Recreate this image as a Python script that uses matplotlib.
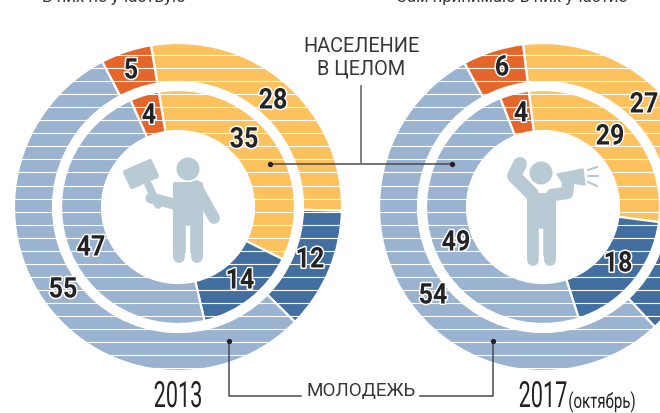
"""Two nested donuts: protest attitudes, 2013 vs 2017."""

import numpy as np
import matplotlib
matplotlib.use("Agg")
import matplotlib.pyplot as plt
import matplotlib.patheffects as pe
from matplotlib.patches import Circle, Polygon
from matplotlib.transforms import Affine2D

plt.rcParams["font.family"] = ["Roboto", "DejaVu Sans"]

# order: yellow, dark blue, light blue, orange
YOUTH_2013 = [28, 12, 55, 5]
ALL_2013 = [35, 14, 47, 4]
YOUTH_2017 = [27, 13, 54, 6]
ALL_2017 = [29, 18, 49, 4]

YEARS = ["2013", "2017"]
YEAR_NOTE = "(октябрь)"
LABEL_ALL = "НАСЕЛЕНИЕ\nВ ЦЕЛОМ"
LABEL_YOUTH = "МОЛОДЕЖЬ"
TOP_LEFT = "В них не участвую"
TOP_RIGHT = "Сам принимаю в них участие"

YELLOW = "#FDC15E"
DARK = "#426F9F"
LIGHT = "#9AB3D1"
ORANGE = "#E5662B"
ICON = "#B8CAD4"
INK = "#232326"
LINE = "#4A4A4E"
TEXT = "#38383B"
COLORS = [YELLOW, DARK, LIGHT, ORANGE]

# label centres in pixels, same order as the values; None = not drawn
POS_YOUTH_2013 = [(273, 102), (310, 261), (63, 291), (131, 72)]
POS_ALL_2013 = [(244, 141), (240, 282), (91, 249), (149, 117)]
POS_YOUTH_2017 = [(644, 106), None, (433, 297), (502, 69)]
POS_ALL_2017 = [(610, 138), (618, 265), (456, 244), (521, 115)]


class Narrow(pe.AbstractPathEffect):
    """Squeeze a text horizontally around cx, the fonts here are all too wide."""

    def __init__(self, cx, sx, halo=None):
        super().__init__()
        self.cx, self.sx, self.halo = cx, sx, halo

    def draw_path(self, renderer, gc, tpath, affine, rgbFace=None):
        squeezed = affine + Affine2D().translate(-self.cx, 0).scale(self.sx, 1).translate(self.cx, 0)
        if self.halo:
            pe.Stroke(linewidth=self.halo, foreground="white").draw_path(renderer, gc, tpath, squeezed, rgbFace)
        renderer.draw_path(gc, tpath, squeezed, rgbFace)


def narrow_text(ax, x, y, s, sx, size, halo=None, **kw):
    ax.text(x, y, s, ha="center", va="center", fontsize=size, color=INK, zorder=6,
            path_effects=[Narrow(x, sx, halo)], **kw)


def donut(ax, cx, cy, start, outer, inner):
    for values, radius, width in ((outer, 164, 39), (inner, 117, 41)):
        ax.pie(values, center=(cx, cy), radius=radius, startangle=start - 90, counterclock=True,
               colors=COLORS, frame=True,
               wedgeprops=dict(width=width, edgecolor="white", linewidth=1.6))


def numbers(ax, values, positions):
    for value, pos in zip(values, positions):
        if pos is not None:
            narrow_text(ax, pos[0], pos[1], str(value), 0.88, 20.5, halo=2.2, fontweight="bold")


def limb(ax, xs, ys, width):
    ax.plot(xs, ys, color=ICON, linewidth=width, solid_capstyle="round", solid_joinstyle="round", zorder=4)


def body(ax, x0, x1, top, bottom):
    mid = (x0 + x1) / 2
    ax.add_patch(Polygon([(x0, top), (x1, top), (x1, bottom - 12), (x0, bottom - 12)],
                         closed=True, fc=ICON, ec=ICON, lw=3, joinstyle="round", zorder=4))
    limb(ax, [x0 + 4, x0 + 4], [bottom - 20, bottom - 6], 8.5)
    limb(ax, [x1 - 4, x1 - 4], [bottom - 20, bottom - 6], 8.5)
    ax.plot([mid, mid], [bottom - 35, bottom + 1], color="white", linewidth=3.2, zorder=4.5)


def hammer_man(ax):
    ax.add_patch(Circle((188, 170), 11.5, fc=ICON, ec="none", zorder=4))
    ax.add_patch(Polygon([(125, 173), (150, 162), (157, 177), (132, 188)], closed=True,
                         fc=ICON, ec=ICON, lw=3, joinstyle="round", zorder=4))
    limb(ax, [148, 158], [185, 206], 5.5)
    limb(ax, [151, 174], [199, 205], 8)
    limb(ax, [196, 214], [187, 219], 8.5)
    body(ax, 175, 201, 185, 264)


def megaphone_man(ax):
    ax.add_patch(Circle((541, 174), 11.5, fc=ICON, ec="none", zorder=4))
    limb(ax, [520, 514, 532], [165, 177, 195], 10)
    limb(ax, [552, 567, 568], [196, 194, 185], 9)
    ax.add_patch(Polygon([(557, 175), (583, 170), (585, 186), (572, 184), (562, 183)], closed=True,
                         fc=ICON, ec=ICON, lw=1, joinstyle="round", zorder=4))
    limb(ax, [588, 597], [171, 168], 1.6)
    limb(ax, [588, 598], [177, 177], 1.6)
    limb(ax, [588, 597], [183, 187], 1.6)
    body(ax, 529, 554, 196, 267)


def leaders(ax):
    style = dict(color=LINE, linewidth=1.1, zorder=5)
    ax.plot([270, 452], [165, 165], **style)
    ax.plot([361, 361], [87, 165], color="#777777", linewidth=1.3, zorder=5)
    ax.plot([229, 229, 301], [342, 397, 397], **style)
    ax.plot([493, 493, 420], [342, 397, 397], **style)
    for x, y in [(270, 165), (452, 165), (229, 342), (493, 342)]:
        ax.plot(x, y, "o", color=INK, markersize=2.8, zorder=5)


def main():
    fig = plt.figure(figsize=(6.6, 4.14), dpi=100)
    ax = fig.add_axes([0, 0, 1, 1])

    donut(ax, 178, 208, -9.5, YOUTH_2013, ALL_2013)
    donut(ax, 543, 208, -7, YOUTH_2017, ALL_2017)

    ax.hlines(np.arange(56, 370, 13.05), 0, 660, color="white", linewidth=0.8, zorder=3)

    numbers(ax, YOUTH_2013, POS_YOUTH_2013)
    numbers(ax, ALL_2013, POS_ALL_2013)
    numbers(ax, YOUTH_2017, POS_YOUTH_2017)
    numbers(ax, ALL_2017, POS_ALL_2017)

    hammer_man(ax)
    megaphone_man(ax)
    leaders(ax)

    ax.text(361.5, 58, LABEL_ALL, ha="center", va="center", fontsize=14.3, color=TEXT,
            linespacing=1.2, zorder=6)
    ax.text(361, 391, LABEL_YOUTH, ha="center", va="center", fontsize=13.6, color=TEXT, zorder=6)
    ax.text(114, 2, TOP_LEFT, ha="center", va="baseline", fontsize=12.2, color=TEXT)
    ax.text(512, 2, TOP_RIGHT, ha="center", va="baseline", fontsize=12.2, color=TEXT)

    narrow_text(ax, 178, 398, YEARS[0], 0.6, 26)
    narrow_text(ax, 543, 398, YEARS[1], 0.6, 26)
    narrow_text(ax, 602, 403, YEAR_NOTE, 0.72, 15)

    ax.set_xlim(0, 660)
    ax.set_ylim(414, 0)
    ax.axis("off")

    fig.savefig("out.png", dpi=100)
    plt.close(fig)


if __name__ == "__main__":
    main()
